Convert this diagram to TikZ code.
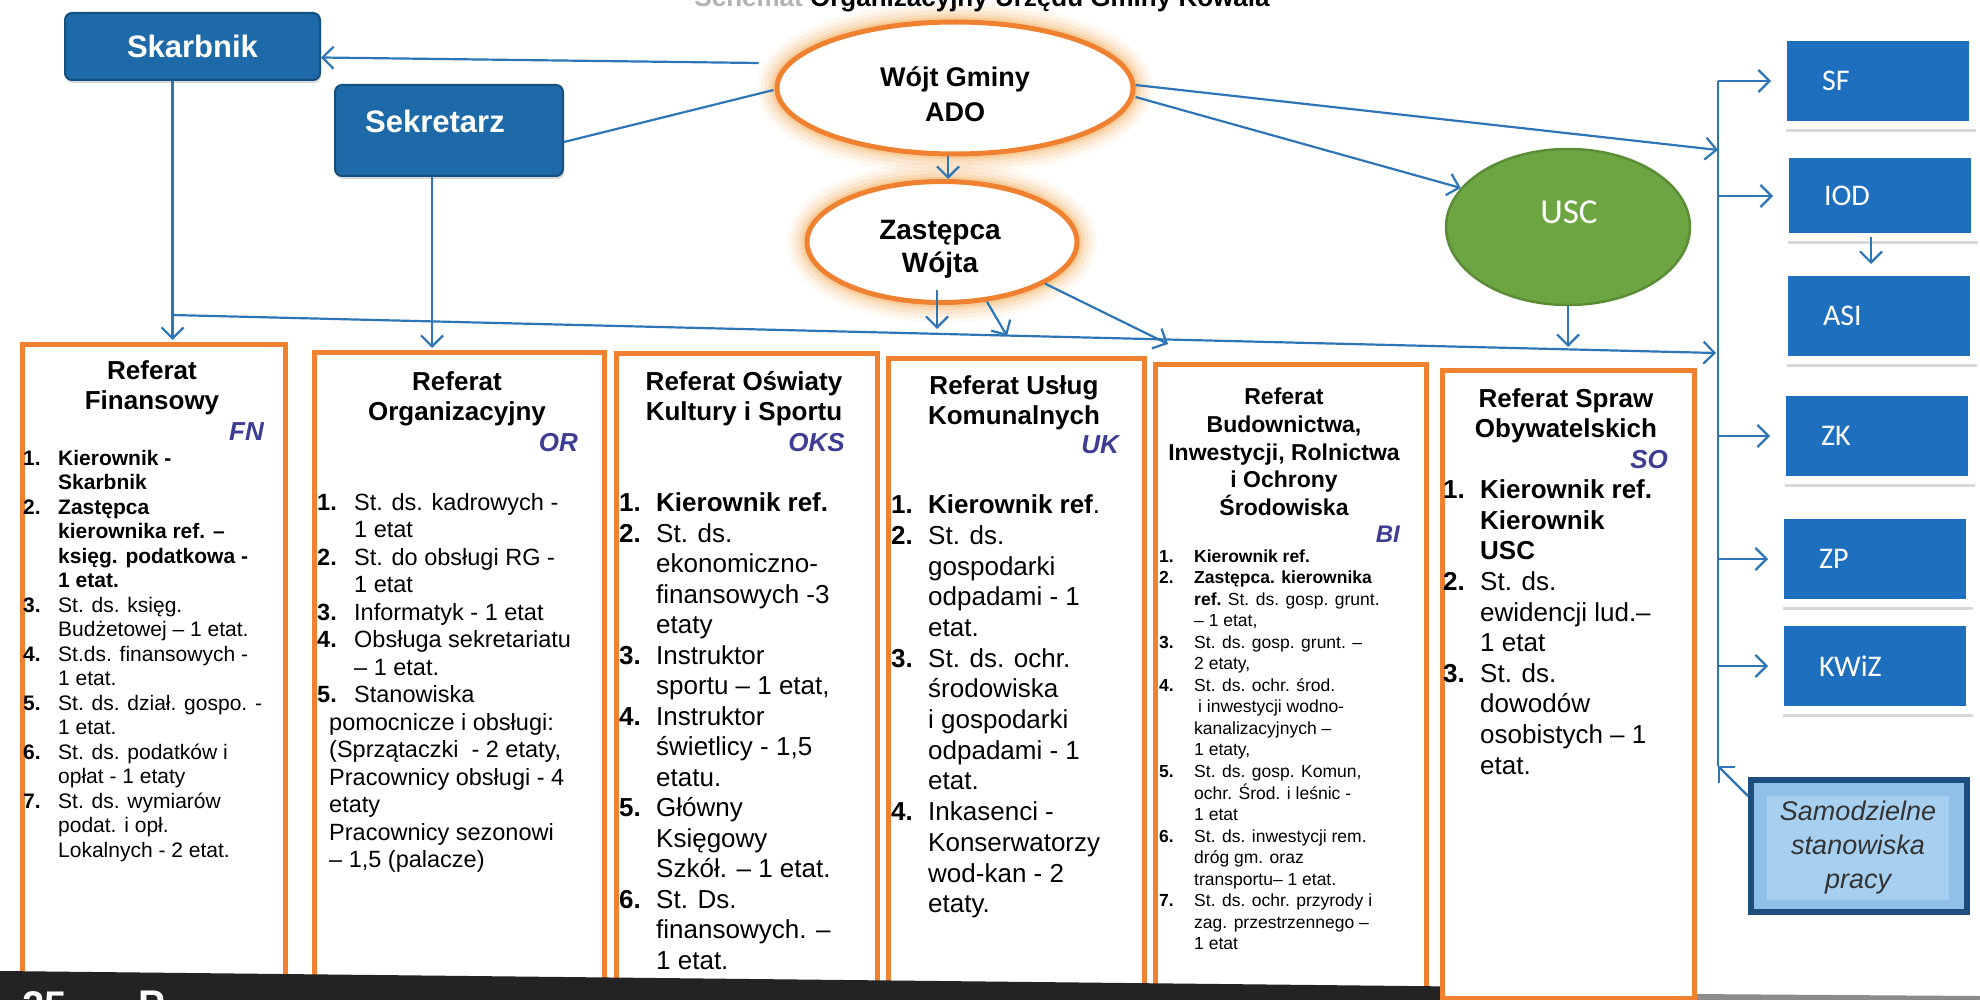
\documentclass[tikz,border=0pt]{standalone}
\usepackage{fontspec}
\setmainfont{Liberation Sans}
\newfontfamily\calib{Carlito}
\usetikzlibrary{arrows.meta,shapes.geometric,shadows}
\definecolor{arrblue}{HTML}{2E75B6}
\definecolor{boxblue}{HTML}{1E6AA8}
\definecolor{boxedge}{HTML}{16507F}
\definecolor{rblue}{HTML}{1F6FBF}
\definecolor{orng}{HTML}{EF8131}
\definecolor{glowc}{HTML}{F5AE5C}
\definecolor{uscg}{HTML}{6DA543}
\definecolor{uscedge}{HTML}{5B8C36}
\definecolor{lbl}{HTML}{3D3D94}
\definecolor{samoedge}{HTML}{1D4E7E}
\definecolor{samofill}{HTML}{8FC0E7}
\definecolor{samoin}{HTML}{A6CFF0}
\definecolor{barc}{HTML}{232323}
\newcommand{\myfs}[2]{\fontsize{#1}{#2}\selectfont}
\newcommand{\nb}[1]{\textbf{#1}}
\begin{document}
\begin{tikzpicture}[x=1pt,y=-1pt,
 arr/.style={draw=arrblue, line width=2.2pt, -{Straight Barb[length=11pt,width=22pt]}},
 ln/.style={draw=arrblue, line width=2.2pt},
 topbox/.style={rectangle, rounded corners=7pt, fill=boxblue, draw=boxedge, line width=2pt, text=white, font=\bfseries\myfs{31}{34}, drop shadow={shadow xshift=1pt, shadow yshift=-3pt, opacity=0.3}},
 oval/.style={ellipse, draw=orng, line width=5pt, fill=white, inner sep=0pt},
 rbox/.style={rectangle, fill=rblue, draw=white, line width=8pt, minimum width=190pt, minimum height=88pt, text width=112pt, inner xsep=39pt, align=left, text=white, font=\calib\myfs{30}{34}, drop shadow={shadow xshift=3pt, shadow yshift=-7pt, opacity=0.3}},
 refbox/.style={rectangle, draw=orng, line width=4.5pt, fill=white, anchor=north west, inner sep=0pt},
 head/.style={align=center, font=\bfseries\myfs{26}{30}, inner sep=0pt},
 tag/.style={anchor=east, text=lbl, font=\bfseries\itshape\myfs{26}{30}, inner sep=0pt},
 list/.style={anchor=north west, inner sep=0pt},
]
\useasboundingbox (0,0) rectangle (1980,1000);
\clip (0,0) rectangle (1980,1000);
\fill[white] (0,0) rectangle (1980,1000);

% glows
\foreach \w/\o in {40/0.07, 32/0.1, 24/0.14, 16/0.2, 10/0.3}{
  \draw[glowc, line width=\w pt, opacity=\o] (955,88) ellipse [x radius=178pt, y radius=66pt];
  \draw[glowc, line width=\w pt, opacity=\o] (942,242) ellipse [x radius=135pt, y radius=60.5pt];
}

% top nodes
\node[topbox, minimum width=255pt, minimum height=67pt] (skarb) at (192.5,46.5) {Skarbnik};
\node[topbox, minimum width=228pt, minimum height=91pt] (sekr) at (449,130.5) {};
\node[text=white, font=\bfseries\myfs{31}{34}] (sekrT) at (435,121) {Sekretarz};

\node[oval, minimum width=356pt, minimum height=132pt] (wojt) at (955,88) {};
\node[align=center, font=\bfseries\myfs{27}{35}] (wojtT) at (955,94) {Wójt Gminy\\ADO};
\node[oval, minimum width=270pt, minimum height=121pt] (zas) at (942,242) {};
\node[align=center, font=\bfseries\myfs{28}{33}] (zasT) at (940,249) {Zastępca\\Wójta};

\node[ellipse, fill=uscg, draw=uscedge, line width=2.5pt, minimum width=244pt, minimum height=156pt] (usc) at (1568,227) {};
\node[text=white, font=\calib\myfs{35}{40}] (uscT) at (1569,212) {USC};

% right boxes
\node[rbox] (sf) at (1878,81) {SF};
\node[rbox, minimum height=83pt] (iod) at (1880,196) {IOD};
\node[rbox] (asi) at (1879,316) {ASI};
\node[rbox] (zk) at (1877,436) {ZK};
\node[rbox] (zp) at (1875,559) {ZP};
\node[rbox] (kwiz) at (1875,666) {KWiZ};

\node[rectangle, draw=samoedge, line width=6pt, fill=samofill, minimum width=216pt, minimum height=132pt] (samo) at (1859,846) {};
\node[rectangle, fill=samoin, minimum width=182pt, minimum height=104pt, align=center, text=black!80, font=\itshape\myfs{27}{34}] (samoT) at (1858,848) {Samodzielne\\stanowiska\\pracy};

% referat boxes
\node[refbox, minimum width=263pt, minimum height=660pt] (fn) at (20,342) {};
\node[refbox, minimum width=290pt, minimum height=660pt] (or) at (312,350) {};
\node[refbox, minimum width=261pt, minimum height=660pt] (oks) at (614,351) {};
\node[refbox, minimum width=256pt, minimum height=660pt] (uk) at (886,356) {};
\node[refbox, minimum width=271pt, minimum height=660pt] (bi) at (1153,362) {};

% bottom bar
\fill[barc] (0,971) -- (1690,989) -- (1690,1000) -- (0,1000) -- cycle;
\fill[black!45] (1690,994) -- (1980,996) -- (1980,1000) -- (1690,1000) -- cycle;
\node[refbox, minimum width=252pt, minimum height=628pt] (so) at (1440,368) {};
\node[anchor=north west, inner sep=0pt, text=white, font=\bfseries\myfs{40}{44}] (pg) at (22,991) {25};
\node[anchor=north west, inner sep=0pt, text=white, font=\bfseries\myfs{40}{44}] (pgP) at (138,991) {P};

% headings
\node[head] (fnH) at (152,388) {Referat\\Finansowy};
\node[tag] (fnL) at (264,432) {FN};
\node[head] (orH) at (457,399) {Referat\\Organizacyjny};
\node[tag] (orL) at (578,443) {OR};
\node[head] (oksH) at (744,399) {Referat Oświaty\\Kultury i Sportu};
\node[tag] (oksL) at (845,443) {OKS};
\node[head] (ukH) at (1014,403) {Referat Usług\\Komunalnych};
\node[tag] (ukL) at (1119,445) {UK};
\node[head, font=\bfseries\myfs{23}{27.75}] (biH) at (1284,452) {Referat\\Budownictwa,\\Inwestycji, Rolnictwa\\i Ochrony\\Środowiska};
\node[tag, font=\bfseries\itshape\myfs{24}{28}] (biL) at (1400,534) {BI};
\node[head] (soH) at (1566,416) {Referat Spraw\\Obywatelskich};
\node[tag] (soL) at (1668,460) {SO};

% lists
\node[list, font=\myfs{21}{24.5}] (fnList) at (23,448) {\begin{tabular}{@{}p{35pt}@{}l@{}}
\nb{1.} & \nb{Kierownik -}\\
 & \nb{Skarbnik}\\
\nb{2.} & \nb{Zastępca}\\
 & \nb{kierownika ref. –}\\
 & \nb{księg. podatkowa -}\\
 & \nb{1 etat.}\\
\nb{3.} & St. ds. księg.\\
 & Budżetowej – 1 etat.\\
\nb{4.} & St.ds. finansowych -\\
 & 1 etat.\\
\nb{5.} & St. ds. dział. gospo. -\\
 & 1 etat.\\
\nb{6.} & St. ds. podatków i\\
 & opłat - 1 etaty\\
\nb{7.} & St. ds. wymiarów\\
 & podat. i opł.\\
 & Lokalnych - 2 etat.
\end{tabular}};

\node[list, font=\myfs{23.5}{27.5}] (orList) at (317,491) {\begin{tabular}{@{}p{37pt}@{}l@{}}
\nb{1.} & St. ds. kadrowych -\\
 & 1 etat\\
\nb{2.} & St. do obsługi RG -\\
 & 1 etat\\
\nb{3.} & Informatyk - 1 etat\\
\nb{4.} & Obsługa sekretariatu\\
 & – 1 etat.\\
\nb{5.} & Stanowiska\\
\multicolumn{2}{@{\hspace{12pt}}l@{}}{pomocnicze i obsługi:}\\
\multicolumn{2}{@{\hspace{12pt}}l@{}}{(Sprzątaczki\ \ - 2 etaty,}\\
\multicolumn{2}{@{\hspace{12pt}}l@{}}{Pracownicy obsługi - 4}\\
\multicolumn{2}{@{\hspace{12pt}}l@{}}{etaty}\\
\multicolumn{2}{@{\hspace{12pt}}l@{}}{Pracownicy sezonowi}\\
\multicolumn{2}{@{\hspace{12pt}}l@{}}{– 1,5 (palacze)}
\end{tabular}};

\node[list, font=\myfs{26}{30.5}] (oksList) at (619,490) {\begin{tabular}{@{}p{37pt}@{}l@{}}
\nb{1.} & \nb{Kierownik ref.}\\
\nb{2.} & St. ds.\\
 & ekonomiczno-\\
 & finansowych -3\\
 & etaty\\
\nb{3.} & Instruktor\\
 & sportu – 1 etat,\\
\nb{4.} & Instruktor\\
 & świetlicy - 1,5\\
 & etatu.\\
\nb{5.} & Główny\\
 & Księgowy\\
 & Szkół. – 1 etat.\\
\nb{6.} & St. Ds.\\
 & finansowych. –\\
 & 1 etat.
\end{tabular}};

\node[list, font=\myfs{26}{30.7}] (ukList) at (891,492) {\begin{tabular}{@{}p{37pt}@{}l@{}}
\nb{1.} & \nb{Kierownik ref}.\\
\nb{2.} & St. ds.\\
 & gospodarki\\
 & odpadami - 1\\
 & etat.\\
\nb{3.} & St. ds. ochr.\\
 & środowiska\\
 & i gospodarki\\
 & odpadami - 1\\
 & etat.\\
\nb{4.} & Inkasenci -\\
 & Konserwatorzy\\
 & wod-kan - 2\\
 & etaty.
\end{tabular}};

\node[list, font=\myfs{17.5}{21.5}] (biList) at (1159,547) {\begin{tabular}{@{}p{35pt}@{}l@{}}
\nb{1.} & \nb{Kierownik ref.}\\
\nb{2.} & \nb{Zastępca. kierownika}\\
 & \nb{ref.} St. ds. gosp. grunt.\\
 & – 1 etat,\\
\nb{3.} & St. ds. gosp. grunt. –\\
 & 2 etaty,\\
\nb{4.} & St. ds. ochr. środ.\\
 & \hspace{4pt}i inwestycji wodno-\\
 & kanalizacyjnych –\\
 & 1 etaty,\\
\nb{5.} & St. ds. gosp. Komun,\\
 & ochr. Środ. i leśnic -\\
 & 1 etat\\
\nb{6.} & St. ds. inwestycji rem.\\
 & dróg gm. oraz\\
 & transportu– 1 etat.\\
\nb{7.} & St. ds. ochr. przyrody i\\
 & zag. przestrzennego –\\
 & 1 etat
\end{tabular}};

\node[list, font=\myfs{26}{30.6}] (soList) at (1443,477) {\begin{tabular}{@{}p{37pt}@{}l@{}}
\nb{1.} & \nb{Kierownik ref.}\\
 & \nb{Kierownik}\\
 & \nb{USC}\\
\nb{2.} & St. ds.\\
 & ewidencji lud.–\\
 & 1 etat\\
\nb{3.} & St. ds.\\
 & dowodów\\
 & osobistych – 1\\
 & etat.
\end{tabular}};

% coordinates
\coordinate (sk1) at ([xshift=-20pt]skarb.south);
\coordinate (se1) at ([xshift=-17pt]sekr.south);
\coordinate (hL) at (172,315);
\coordinate (hR) at (1716,353);
\coordinate (a1) at (937,329);
\coordinate (b1) at (1007,336);
\coordinate (c1) at (1168,344);
\coordinate (u1) at (1568,347);
\coordinate (busTop) at (1718,81);
\coordinate (busBot) at (1718,766);
\coordinate (busW) at (1718,150);

% connectors
\draw[arr] ([xshift=-16pt,yshift=25pt]wojt.west) -- ([yshift=-11pt]skarb.east);
\draw[ln] ([xshift=-1pt,yshift=-2pt]wojt.west) -- ([yshift=-11.5pt]sekr.east);
\draw[arr] ([xshift=-7pt]wojt.south) -- ([xshift=-7pt]wojt.south |- zas.north);
\draw[arr] ([yshift=3pt]wojt.east) -- (busW);
\draw[arr] ([yshift=-9pt]wojt.east) -- (usc.160);
\draw[arr, shorten >=2pt] (sk1) -- (sk1 |- fn.north);
\draw[arr, shorten >=2pt] (se1) -- (se1 |- or.north);
\draw[arr] (hL) -- (hR);
\draw[arr] ([xshift=-5pt,yshift=15pt]zas.south) -- (a1);
\draw[arr] (zas.-53) -- (b1);
\draw[arr] (zas.-22) -- (c1);
\draw[arr] (usc.south) -- (u1);
\draw[ln] (busTop) -- (busBot);
\draw[arr, shorten >=8pt] (busTop) -- (sf.west);
\draw[arr, shorten >=8pt] (busTop |- iod.west) -- (iod.west);
\draw[arr, shorten >=8pt] (busTop |- zk.west) -- (zk.west);
\draw[arr, shorten >=8pt] (busTop |- zp.west) -- (zp.west);
\draw[arr, shorten >=8pt] (busTop |- kwiz.west) -- (kwiz.west);
\draw[arr, shorten >=4pt] ([xshift=-9pt,yshift=4pt]iod.south) -- ([xshift=-9pt]iod.south |- asi.north);
\draw[arr] ([yshift=-19pt]samo.north west) -- (busBot);

% title (cut at the top edge, as in the reference)
\node[anchor=base, inner sep=0pt, font=\bfseries\myfs{26}{30}] (title) at (982,7) {\textcolor{black!30}{Schemat} Organizacyjny Urzędu Gminy Kowala};
\end{tikzpicture}
\end{document}
